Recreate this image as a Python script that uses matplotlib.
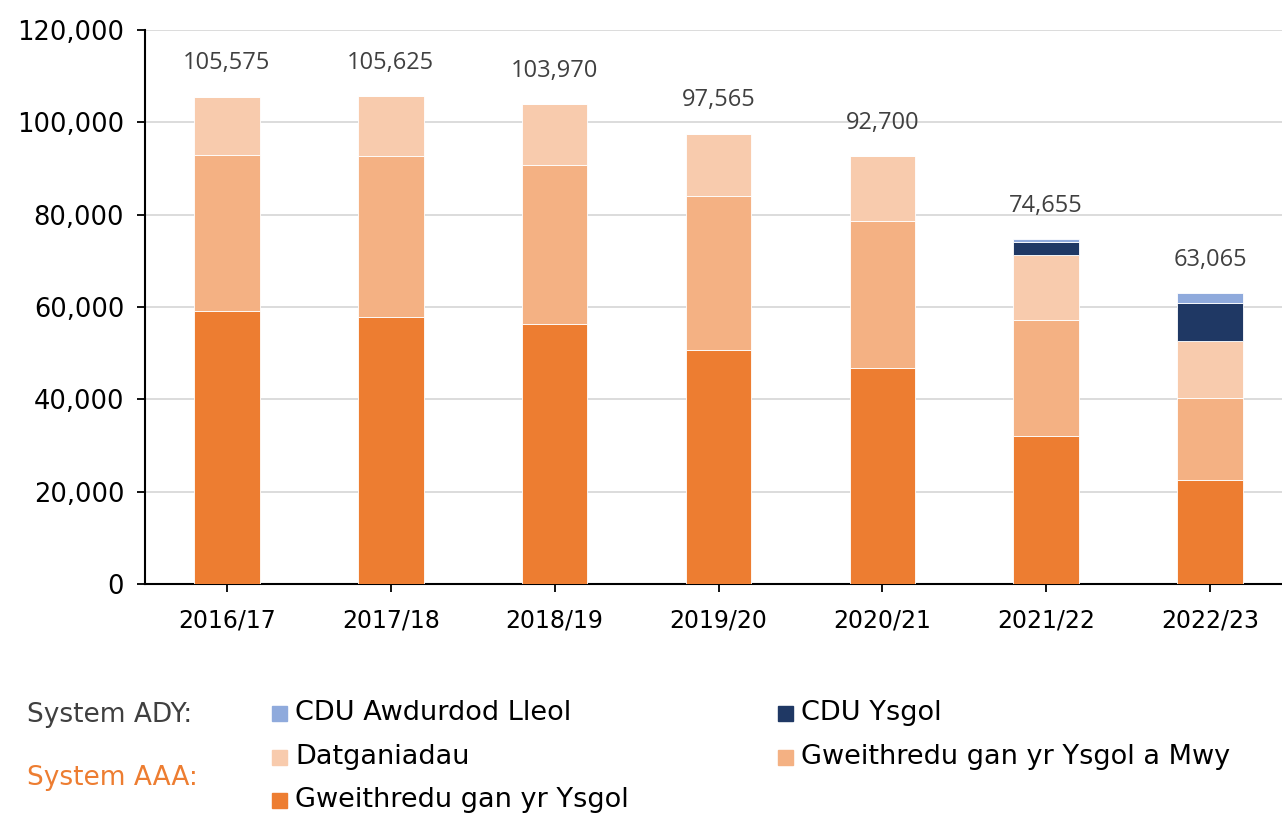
import matplotlib.pyplot as plt
import matplotlib as mpl
from matplotlib.patches import Rectangle
from matplotlib.ticker import FuncFormatter

years = ['2016/17', '2017/18', '2018/19', '2019/20', '2020/21', '2021/22', '2022/23']
gweithredu = [59100, 57800, 56300, 50700, 46800, 32050, 22500]
gweithredu_mwy = [33800, 34900, 34450, 33300, 31800, 25200, 17800]
datganiadau = [12675, 12925, 13220, 13565, 14100, 14050, 12270]
cdu_ysgol = [0, 0, 0, 0, 0, 2840, 8230]
cdu_al = [0, 0, 0, 0, 0, 515, 2265]

series = [
    ('Gweithredu gan yr Ysgol', gweithredu, '#ED7D31'),
    ('Gweithredu gan yr Ysgol a Mwy', gweithredu_mwy, '#F4B183'),
    ('Datganiadau', datganiadau, '#F8CBAD'),
    ('CDU Ysgol', cdu_ysgol, '#1F3864'),
    ('CDU Awdurdod Lleol', cdu_al, '#8FAADC'),
]

W, H = 1282, 814
fig = plt.figure(figsize=(W / 100, H / 100), dpi=100)
x0, x1, y0, y1 = 145, 1292, 30, 584
ax = fig.add_axes([x0 / W, 1 - y1 / H, (x1 - x0) / W, (y1 - y0) / H])

x = list(range(len(years)))
bottom = [0] * len(years)
for name, vals, col in series:
    ax.bar(x, vals, 0.4, bottom=bottom, color=col, edgecolor='white',
           linewidth=0.6, zorder=3)
    bottom = [b + v for b, v in zip(bottom, vals)]

for xi, tot in zip(x, bottom):
    ax.annotate(f'{tot:,}', (xi, tot), xytext=(0, 24), textcoords='offset points',
                ha='center', va='center', fontsize=17, color='#404040',
                family='Open Sans')

ax.set_xlim(-0.5, len(years) - 0.5)
ax.set_ylim(0, 120000)
ax.set_yticks(range(0, 120001, 20000))
ax.yaxis.set_major_formatter(FuncFormatter(lambda v, p: f'{int(v):,}'))
ax.set_xticks(x)
ax.set_xticklabels(years)
ax.grid(axis='y', color='#d9d9d9', linewidth=1.3, zorder=0)
for s in ['top', 'right']:
    ax.spines[s].set_visible(False)
for s in ['left', 'bottom']:
    ax.spines[s].set_linewidth(1.5)
    ax.spines[s].set_color('black')
ax.tick_params(axis='y', length=6, width=1.3, labelsize=18.5, pad=9)
ax.tick_params(axis='x', length=6, width=1.3, labelsize=17, pad=12)

# custom legend
fig.text(27 / W, 1 - 715 / H, 'System ADY:', fontsize=19, color='#404040', va='center')
fig.text(27 / W, 1 - 778 / H, 'System AAA:', fontsize=19, color='#ED7D31', va='center')
leg_items = [
    ('CDU Awdurdod Lleol', '#8FAADC', 272, 713),
    ('CDU Ysgol', '#1F3864', 778, 713),
    ('Datganiadau', '#F8CBAD', 272, 757),
    ('Gweithredu gan yr Ysgol a Mwy', '#F4B183', 778, 757),
    ('Gweithredu gan yr Ysgol', '#ED7D31', 272, 800),
]
sq = 15
for name, col, lx, ly in leg_items:
    fig.patches.append(Rectangle((lx / W, 1 - (ly + sq / 2) / H), sq / W, sq / H,
                                 transform=fig.transFigure, color=col))
    fig.text((lx + 23) / W, 1 - ly / H, name, fontsize=19.5, color='black', va='center')

fig.savefig('out.png', dpi=100)
